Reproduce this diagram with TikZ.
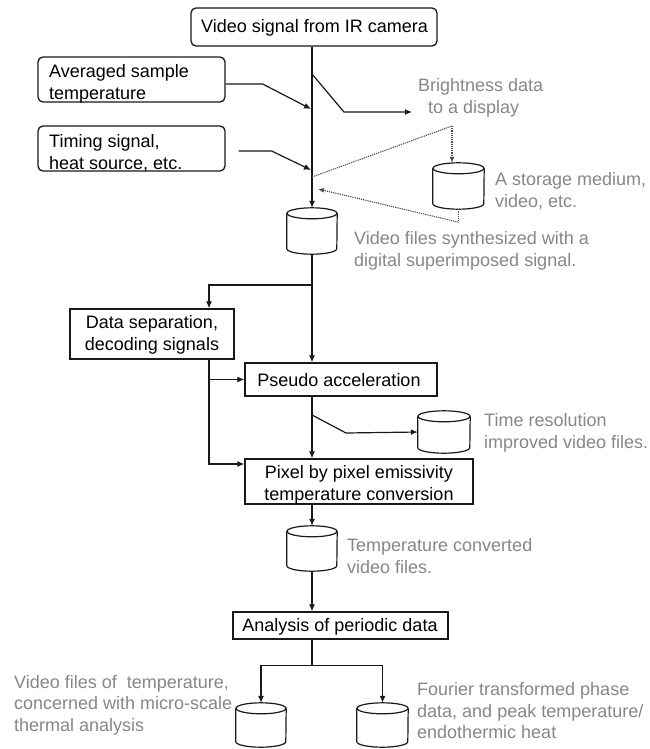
\documentclass[tikz,border=0pt]{standalone}
\usepackage{fontspec}
\setmainfont{Liberation Sans}
\usetikzlibrary{arrows.meta,calc,positioning}
\definecolor{ink}{RGB}{25,25,25}
\definecolor{softgray}{RGB}{135,135,135}
\definecolor{dotgray}{RGB}{75,75,75}
\tikzset{
  every node/.style={font=\fontsize{18}{21.5}\selectfont},
  frame/.style={draw=ink, line width=1.3pt, inner sep=0pt},
  roundframe/.style={frame, rounded corners=5pt},
  lbl/.style={inner sep=0pt, text=black},
  note/.style={inner sep=0pt, text=softgray, align=left, anchor=west},
  conn/.style={draw=ink, line width=1.2pt, -{Latex[length=7pt,width=6pt]}},
  plainconn/.style={draw=ink, line width=1.2pt},
  dotconn/.style={draw=dotgray, line width=1.1pt, dash pattern=on 1.2pt off 1pt, -{Latex[length=6pt,width=5pt]}},
  dotline/.style={draw=dotgray, line width=1.1pt, dash pattern=on 1.2pt off 1pt},
  drumline/.style={draw=ink, line width=1.2pt},
}
% cylinder: name, cx, cy, width, height
\newcommand\drum[5]{%
  \node[inner sep=0pt, minimum width=#4pt, minimum height=#5pt] (#1) at (#2,#3) {};
  \draw[drumline] ($(#1.north west)+(0,-5.5)$) -- ($(#1.south west)+(0,5.5)$)
    arc[start angle=180, end angle=360, x radius=#4/2, y radius=5.5]
    -- ($(#1.north east)+(0,-5.5)$);
  \draw[drumline] ($(#1.north)+(0,-5.5)$) ellipse[x radius=#4/2, y radius=5.5];
}
\begin{document}
\begin{tikzpicture}[x=1pt,y=1pt]
\fill[white] (0,0) rectangle (649,-749);
\useasboundingbox (0,0) rectangle (649,-749);

% boxes
\node[roundframe, minimum width=246pt, minimum height=38pt] (bTop) at (314,-27) {};
\node[roundframe, minimum width=187pt, minimum height=45pt] (bAvg) at (131.5,-79.5) {};
\node[roundframe, minimum width=187pt, minimum height=45pt] (bTim) at (131.5,-148.5) {};
\node[frame, minimum width=164pt, minimum height=50pt] (bDat) at (152,-334) {};
\node[frame, minimum width=192pt, minimum height=33pt] (bPse) at (341,-379.5) {};
\node[frame, minimum width=228pt, minimum height=45pt] (bPix) at (359,-481.5) {};
\node[frame, minimum width=215pt, minimum height=27pt] (bAna) at (340.5,-625.5) {};

% box texts
\node[lbl] (tTop) at (314.5,-28) {Video signal from IR camera};
\node[lbl, align=left, anchor=west] (tAvg) at (49,-84) {Averaged sample\\temperature};
\node[lbl, align=left, anchor=west] (tTim) at (49,-153) {Timing signal,\\heat source, etc.};
\node[lbl, align=center] (tDat) at (152,-335) {Data separation,\\decoding signals};
\node[lbl] (tPse) at (339,-380) {Pseudo acceleration};
\node[lbl, align=center] (tPix) at (359,-485) {Pixel by pixel emissivity\\temperature conversion};
\node[lbl] (tAna) at (340,-627) {Analysis of periodic data};

% cylinders
\drum{cVid}{312}{-231}{50}{46}
\drum{cSto}{458.5}{-186}{51}{46}
\drum{cTime}{444}{-432}{52}{42}
\drum{cTem}{312}{-548.5}{50}{45}
\drum{cL}{261}{-725}{50}{44}
\drum{cR}{382.5}{-725}{51}{44}

% notes
\node[note] (tBri) at (418,-98) {Brightness data\\\hspace{10pt}to a display};
\node[note] (tSto) at (495,-191) {A storage medium,\\video, etc.};
\node[note] (tVid) at (354,-251) {Video files synthesized with a\\digital superimposed signal.};
\node[note] (tTime) at (484,-433) {Time resolution\\improved video files.};
\node[note] (tTem) at (347,-556) {Temperature converted\\video files.};
\node[note] (tLeft) at (14,-705) {Video files of\ \ temperature,\\concerned with micro-scale\\thermal analysis};
\node[note] (tRight) at (417,-711) {Fourier transformed phase\\data, and peak temperature/\\endothermic heat};

% junction coordinates on the main line
\coordinate (jBri) at (312,-74);
\coordinate (jAvg) at (311,-109);
\coordinate (jTim) at (311,-170);
\coordinate (jDot) at (312,-177);
\coordinate (jRet) at (318,-189);
\coordinate (briEnd) at (412,-112);
\coordinate (dotTop) at (452,-126);
\coordinate (jSplit) at (312,-285);
\coordinate (jTime) at (312,-415);

% main line
\draw[conn] (cVid.north |- bTop.south) -- (cVid.north);
\draw[conn] ([yshift=-4.5pt]bAvg.east) -- ++(37,0) -- (jAvg);
\draw[conn] ([xshift=13pt,yshift=-2.5pt]bTim.east) -- ++(33,0) -- (jTim);
\draw[conn] (jBri) -- ++(32,-38) -- (briEnd);

% dotted storage loop
\draw[dotline] (jDot) -- (dotTop);
\draw[dotconn] (dotTop) -- (dotTop |- cSto.north);
\draw[dotline] (cSto.south) -- ++(0,-13) coordinate (retCorner);
\draw[dotconn] (retCorner) -- (jRet);

% lower flow
\draw[conn] (cVid.south) -- (cVid.south |- bPse.north);
\draw[conn] (jSplit) -| ([xshift=57pt]bDat.north);
\draw[conn] ([xshift=57pt]bDat.south) |- (bPse.west);
\draw[conn] ([xshift=57pt]bDat.south) |- ([yshift=17.5pt]bPix.west);
\draw[conn] (bPse.south -| cVid.south) -- (bPix.north -| cVid.south);
\draw[conn] (jTime) -- ++(34,-18) -- (cTime.west);
\draw[conn] (bPix.south -| cTem.north) -- (cTem.north);
\draw[conn] (cTem.south) -- (cTem.south |- bAna.north);
\draw[plainconn] (bAna.south -| cTem.south) -- ++(0,-26) coordinate (jX);
\draw[conn] (jX) -| (cL.north);
\draw[conn] (jX) -| (cR.north);
\end{tikzpicture}
\end{document}
